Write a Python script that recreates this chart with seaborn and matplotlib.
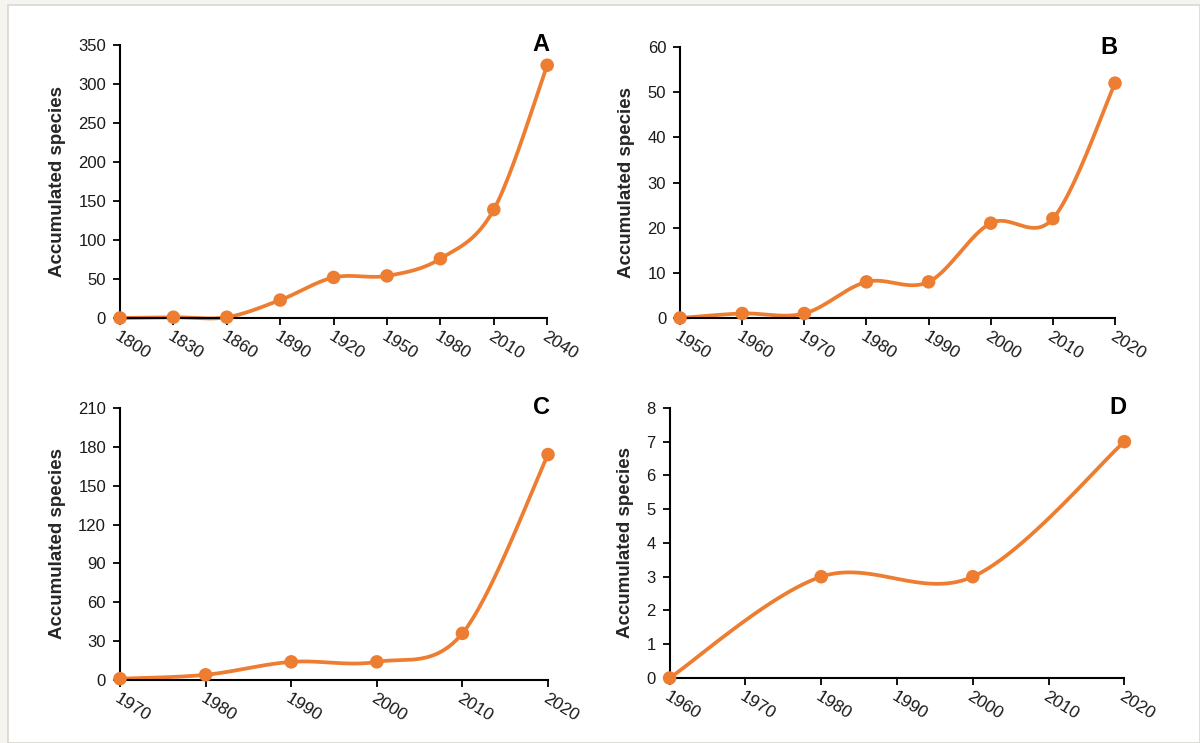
import numpy as np
import pandas as pd
import matplotlib
matplotlib.use("Agg")
import matplotlib.pyplot as plt
from matplotlib.patches import Rectangle
import seaborn as sns

# ---- data ----
years_a = [1800, 1830, 1860, 1890, 1920, 1950, 1980, 2010, 2040]
species_a = [0, 1, 1, 23, 52, 54, 76, 139, 324]

years_b = [1950, 1960, 1970, 1980, 1990, 2000, 2010, 2020]
species_b = [0, 1, 1, 8, 8, 21, 22, 52]

years_c = [1970, 1980, 1990, 2000, 2010, 2020]
species_c = [1, 4, 14, 14, 36, 174]

years_d = [1960, 1980, 2000, 2020]
species_d = [0, 3, 3, 7]

panels = ["A", "B", "C", "D"]
ylabel = "Accumulated species"

sns.set_theme(style="white")
plt.rcParams["font.family"] = ["Liberation Sans", "DejaVu Sans"]

ORANGE = "#ED7D31"


def smooth(x, y, n=40):
    """Excel-like smoothed line (Catmull-Rom Bezier) through the data points."""
    x = np.asarray(x, float)
    y = np.asarray(y, float)
    P = np.column_stack([x, y])
    out = []
    for i in range(len(P) - 1):
        p0 = P[i - 1] if i > 0 else P[i]
        p1 = P[i]
        p2 = P[i + 1]
        p3 = P[i + 2] if i + 2 < len(P) else P[i + 1]
        c1 = p1 + (p2 - p0) / 6.0
        c2 = p2 - (p3 - p1) / 6.0
        t = np.linspace(0, 1, n)[:, None]
        seg = ((1 - t) ** 3) * p1 + 3 * ((1 - t) ** 2) * t * c1 + 3 * (1 - t) * t ** 2 * c2 + t ** 3 * p2
        out.append(seg if i == 0 else seg[1:])
    s = np.vstack(out)
    return pd.DataFrame({"year": s[:, 0], "species": s[:, 1]})


fig = plt.figure(figsize=(12, 7.43), dpi=100, facecolor="#F5F4EF")
bg = Rectangle((8 / 1200, 0), 1 - 8 / 1200, 1 - 5 / 743,
               transform=fig.transFigure, facecolor="white",
               edgecolor="#D8D8D2", linewidth=1.2, zorder=-10)
fig.add_artist(bg)

specs = [
    (years_a, species_a, [0.100, 0.572, 0.356, 0.3675], (0, 350), np.arange(0, 351, 50), np.arange(1800, 2041, 30), (1800, 2040)),
    (years_b, species_b, [0.5667, 0.572, 0.3625, 0.3647], (0, 60), np.arange(0, 61, 10), np.arange(1950, 2021, 10), (1950, 2020)),
    (years_c, species_c, [0.100, 0.0848, 0.3567, 0.3662], (0, 210), np.arange(0, 211, 30), np.arange(1970, 2021, 10), (1970, 2020)),
    (years_d, species_d, [0.558, 0.0875, 0.379, 0.3635], (0, 8), np.arange(0, 9, 1), np.arange(1960, 2021, 10), (1960, 2020)),
]

for (xs, ys, rect, ylim, yt, xt, xlim), letter in zip(specs, panels):
    ax = fig.add_axes(rect)
    ax.set_facecolor("none")
    ax.set_zorder(1)
    df = pd.DataFrame({"year": xs, "species": ys})
    sm = smooth(xs, ys)
    sns.lineplot(data=sm, x="year", y="species", ax=ax, color=ORANGE,
                 linewidth=2.7, sort=False, estimator=None, clip_on=False)
    sns.scatterplot(data=df, x="year", y="species", ax=ax, color=ORANGE,
                    s=95, edgecolor="none", zorder=5, clip_on=False)
    ax.set_xlim(*xlim)
    ax.set_ylim(*ylim)
    ax.set_yticks(yt)
    ax.set_xticks(xt)
    ax.set_xticklabels([str(v) for v in xt], rotation=-32, ha="left", va="top",
                       rotation_mode="anchor", fontsize=12.5, color="#1a1a1a")
    ax.set_yticklabels([str(v) for v in yt], fontsize=12, color="#1a1a1a")
    for lbl in ax.get_xticklabels():
        lbl.set_x(lbl.get_position()[0])
    for s in ["top", "right"]:
        ax.spines[s].set_visible(False)
    for s in ["left", "bottom"]:
        ax.spines[s].set_color("black")
        ax.spines[s].set_linewidth(1.5)
    ax.tick_params(axis="both", which="major", direction="out", length=5,
                   width=1.3, color="black", left=True, bottom=True)
    ax.tick_params(axis="x", pad=3)
    ax.tick_params(axis="y", pad=5)
    ax.set_xlabel("")
    ax.set_ylabel(ylabel, fontsize=13.5, fontweight="bold", labelpad=9)
    ax.text(0.985, 1.0, letter, transform=ax.transAxes, ha="center", va="center",
            fontsize=17, fontweight="bold", color="black")

fig.savefig("out.png", dpi=100, facecolor=fig.get_facecolor())
